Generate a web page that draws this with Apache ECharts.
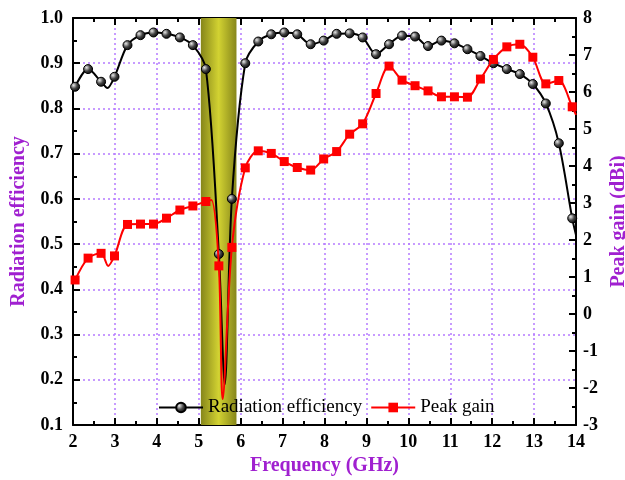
<!DOCTYPE html>
<html>
<head>
<meta charset="utf-8">
<script src="https://cdn.jsdelivr.net/npm/echarts@6/dist/echarts.min.js"></script>
<style>
  html, body { margin: 0; padding: 0; background: #fff; }
  #chart { width: 625px; height: 480px; }
</style>
</head>
<body>
<div id="chart"></div>
<script>
// frequency (GHz) / value pairs; mark = 1 where a marker is drawn
var effFreq  = [2.05, 2.36, 2.67, 2.82, 2.99, 3.30, 3.61, 3.92, 4.23, 4.55, 4.86, 5.17, 5.48, 5.62, 5.79, 6.11, 6.42, 6.73, 7.04, 7.35, 7.67, 7.98, 8.29, 8.60, 8.91, 9.23, 9.54, 9.85, 10.16, 10.47, 10.79, 11.10, 11.41, 11.72, 12.03, 12.35, 12.66, 12.97, 13.28, 13.59, 13.91, 14.0];
var effValue = [0.848, 0.887, 0.859, 0.845, 0.870, 0.940, 0.962, 0.968, 0.965, 0.957, 0.940, 0.887, 0.478, 0.19, 0.600, 0.900, 0.948, 0.964, 0.968, 0.964, 0.942, 0.950, 0.965, 0.966, 0.957, 0.920, 0.942, 0.961, 0.959, 0.938, 0.950, 0.944, 0.931, 0.916, 0.900, 0.887, 0.876, 0.854, 0.811, 0.723, 0.557, 0.52];
var effMark  = [1, 1, 1, 0, 1, 1, 1, 1, 1, 1, 1, 1, 1, 0, 1, 1, 1, 1, 1, 1, 1, 1, 1, 1, 1, 1, 1, 1, 1, 1, 1, 1, 1, 1, 1, 1, 1, 1, 1, 1, 1, 0];

var gainFreq  = [2.05, 2.36, 2.67, 2.84, 2.99, 3.30, 3.61, 3.92, 4.23, 4.55, 4.86, 5.17, 5.30, 5.48, 5.57, 5.79, 6.11, 6.42, 6.73, 7.04, 7.35, 7.67, 7.98, 8.29, 8.60, 8.91, 9.23, 9.54, 9.85, 10.16, 10.47, 10.79, 11.10, 11.41, 11.72, 12.03, 12.35, 12.66, 12.97, 13.28, 13.59, 13.91, 14.0];
var gainValue = [0.92, 1.51, 1.64, 1.30, 1.57, 2.42, 2.43, 2.43, 2.59, 2.81, 2.92, 3.04, 3.08, 1.30, -2.3, 1.80, 3.95, 4.41, 4.34, 4.12, 3.96, 3.89, 4.19, 4.39, 4.86, 5.14, 5.96, 6.70, 6.32, 6.17, 6.03, 5.87, 5.87, 5.86, 6.35, 6.88, 7.22, 7.29, 6.94, 6.22, 6.31, 5.60, 5.38];
var gainMark  = [1, 1, 1, 0, 1, 1, 1, 1, 1, 1, 1, 1, 0, 1, 0, 1, 1, 1, 1, 1, 1, 1, 1, 1, 1, 1, 1, 1, 1, 1, 1, 1, 1, 1, 1, 1, 1, 1, 1, 1, 1, 1, 0];

var bandRange = [5.05, 5.9];   // shaded notch band

var serif = 'Liberation Serif';
var purple = '#a020d0';
var gridColor = '#b57bff';

function pairs(xs, ys, marks) {
  return xs.map(function (x, i) {
    var item = { value: [x, ys[i]] };
    if (!marks[i]) item.symbol = 'none';
    return item;
  });
}

var chart = echarts.init(document.getElementById('chart'));

var tickLabel = { fontFamily: serif, fontWeight: 'bold', fontSize: 18, color: '#000' };
var axisLine = { show: true, onZero: false, lineStyle: { color: '#000', width: 2 } };

chart.setOption({
  animation: false,
  grid: { left: 73, right: 49, top: 18, bottom: 55, outerBoundsMode: 'none', containLabel: false },
  legend: {
    left: 153,
    top: 393,
    itemGap: 8,
    itemWidth: 44,
    itemHeight: 12,
    textStyle: { fontFamily: serif, fontSize: 19, color: '#000' },
    data: ['Radiation efficiency', 'Peak gain']
  },
  xAxis: [
    {
      type: 'value',
      min: 2, max: 14, interval: 1,
      name: 'Frequency (GHz)',
      nameLocation: 'middle',
      nameGap: 31,
      nameTextStyle: { fontFamily: serif, fontWeight: 'bold', fontSize: 20, color: purple },
      axisLine: axisLine,
      axisTick: { inside: true, length: 7, lineStyle: { width: 2, color: '#000' } },
      minorTick: { show: true, splitNumber: 2, length: 4, lineStyle: { width: 2, color: '#000' } },
      axisLabel: Object.assign({ margin: 8 }, tickLabel),
      splitLine: { show: true, lineStyle: { color: gridColor, type: [2, 3], width: 1.5 } }
    },
    {
      type: 'value',
      position: 'top',
      min: 2, max: 14, interval: 1,
      axisLine: axisLine,
      axisTick: { inside: true, length: 7, lineStyle: { width: 2, color: '#000' } },
      minorTick: { show: true, splitNumber: 2, length: 4, lineStyle: { width: 2, color: '#000' } },
      axisLabel: { show: false },
      splitLine: { show: false }
    }
  ],
  yAxis: [
    {
      type: 'value',
      min: 0.1, max: 1.0, interval: 0.1,
      name: 'Radiation efficiency',
      nameLocation: 'middle',
      nameGap: 44,
      nameTextStyle: { fontFamily: serif, fontWeight: 'bold', fontSize: 20, color: purple },
      axisLine: axisLine,
      axisTick: { inside: true, length: 7, lineStyle: { width: 2, color: '#000' } },
      minorTick: { show: true, splitNumber: 2, length: 4, lineStyle: { width: 2, color: '#000' } },
      axisLabel: Object.assign({ margin: 10, formatter: function (v) { return v.toFixed(1); } }, tickLabel),
      splitLine: { show: true, lineStyle: { color: gridColor, type: [2, 3], width: 1.5 } }
    },
    {
      type: 'value',
      position: 'right',
      min: -3, max: 8, interval: 1,
      name: 'Peak gain (dBi)',
      nameLocation: 'middle',
      nameGap: 28,
      nameRotate: 90,
      nameTextStyle: { fontFamily: serif, fontWeight: 'bold', fontSize: 20, color: purple },
      axisLine: axisLine,
      axisTick: { inside: true, length: 7, lineStyle: { width: 2, color: '#000' } },
      minorTick: { show: true, splitNumber: 2, length: 4, lineStyle: { width: 2, color: '#000' } },
      axisLabel: Object.assign({ margin: 7 }, tickLabel),
      splitLine: { show: false }
    }
  ],
  series: [
    {
      name: 'Radiation efficiency',
      type: 'line',
      xAxisIndex: 0,
      yAxisIndex: 0,
      smooth: 0.3,
      symbol: 'circle',
      symbolSize: 9,
      z: 3,
      lineStyle: { color: '#000', width: 2 },
      itemStyle: {
        color: {
          type: 'radial', x: 0.35, y: 0.35, r: 0.7,
          colorStops: [{ offset: 0, color: '#e8e8e8' }, { offset: 0.5, color: '#444' }, { offset: 1, color: '#000' }]
        },
        borderColor: '#000',
        borderWidth: 1
      },
      data: pairs(effFreq, effValue, effMark),
      markArea: {
        silent: true,
        itemStyle: {
          color: {
            type: 'linear', x: 0, y: 0, x2: 1, y2: 0,
            colorStops: [
              { offset: 0, color: '#86861a' },
              { offset: 0.5, color: '#d2d232' },
              { offset: 1, color: '#86861a' }
            ]
          }
        },
        data: [[{ xAxis: bandRange[0] }, { xAxis: bandRange[1] }]]
      }
    },
    {
      name: 'Peak gain',
      type: 'line',
      xAxisIndex: 0,
      yAxisIndex: 1,
      smooth: 0.3,
      symbol: 'rect',
      symbolSize: 9,
      z: 4,
      lineStyle: { color: '#ff0000', width: 2 },
      itemStyle: { color: '#ff0000' },
      data: pairs(gainFreq, gainValue, gainMark)
    }
  ]
});
</script>
</body>
</html>
